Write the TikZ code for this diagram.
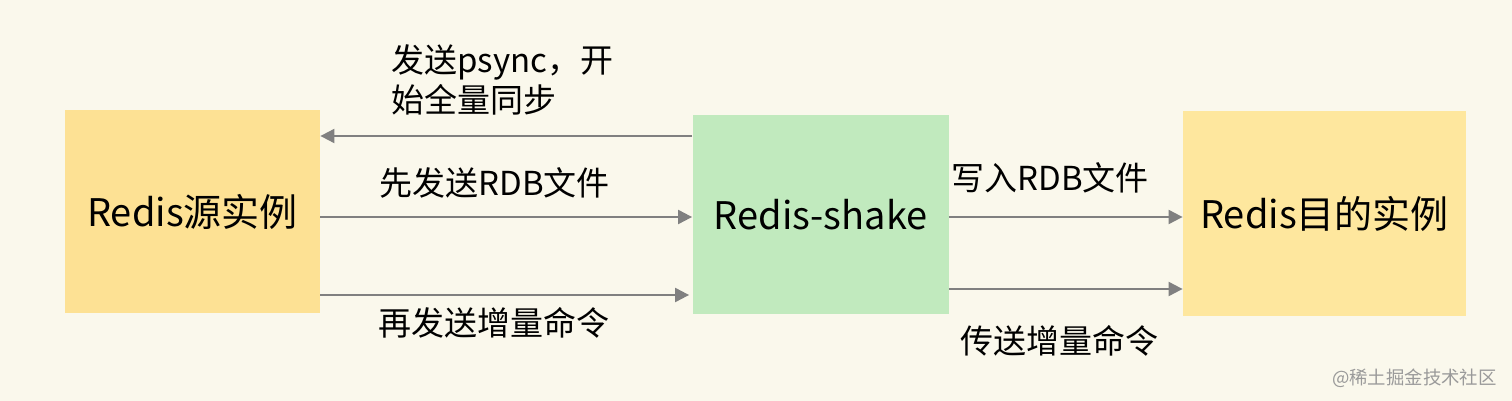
\documentclass[tikz,border=0pt]{standalone}
\usepackage{fontspec}
\setmainfont{Noto Sans CJK SC}
\usepackage{xcolor}
\usetikzlibrary{shapes,arrows.meta,positioning}

\definecolor{bgcream}{RGB}{250,248,236}
\definecolor{srcyellow}{RGB}{253,225,148}
\definecolor{dstyellow}{RGB}{254,231,158}
\definecolor{shakegreen}{RGB}{193,234,190}
\definecolor{flowgray}{RGB}{128,128,128}

\begin{document}
\begin{tikzpicture}[x=0.5pt,y=-0.5pt,%
      inst/.style={inner sep=0pt, font=\fontsize{19}{23}\selectfont},
      flow/.style={draw=flowgray, line width=1pt, -{Triangle[length=7pt,width=7pt]}},
      lbl/.style={inner sep=0pt, font=\fontsize{16.5}{20}\selectfont}]
      \fill[bgcream] (0,0) rectangle (1512,401);
      \useasboundingbox (0,0) rectangle (1512,401);
      % instances
      \node[inst, fill=srcyellow, minimum width=255*0.5pt, minimum height=203*0.5pt] (src) at (192.5,211.5) {Redis源实例};
      \node[inst, fill=shakegreen, minimum width=256*0.5pt, minimum height=198*0.5pt] (shake) at (820.5,214.5) {Redis-shake};
      \node[inst, fill=dstyellow, minimum width=283*0.5pt, minimum height=205*0.5pt] (dst) at (1324.5,213.5) {Redis目的实例};
      % levels of the arrows
      \coordinate (psyncY) at (0,136);
      \coordinate (rdbY) at (0,217);
      \coordinate (incY) at (0,295);
      \coordinate (incY2) at (0,289);
      % arrows
      \draw[flow] (shake.west |- psyncY) -- (src.east |- psyncY);
      \draw[flow] (src.east |- rdbY) -- (shake.west |- rdbY);
      \draw[flow] (src.east |- incY) -- ([xshift=-1.5pt]shake.west |- incY);
      \draw[flow] (shake.east |- rdbY) -- (dst.west |- rdbY);
      \draw[flow] (shake.east |- incY2) -- (dst.west |- incY2);
      % labels
      \node[lbl, align=left, anchor=west] (psync) at (391,80) {发送psync，开\\始全量同步};
      \node[lbl, anchor=west] (sendrdb) at (379,183) {先发送RDB文件};
      \node[lbl, anchor=west] (sendinc) at (378,323) {再发送增量命令};
      \node[lbl, anchor=west] (writerdb) at (951,178) {写入RDB文件};
      \node[lbl, anchor=west] (passinc) at (960,341) {传送增量命令};
      \node[inner sep=0pt, text=flowgray!80, font=\fontsize{9.2}{11}\selectfont, anchor=east] (mark) at (1497,378) {@稀土掘金技术社区};
    \end{tikzpicture}
\end{document}
